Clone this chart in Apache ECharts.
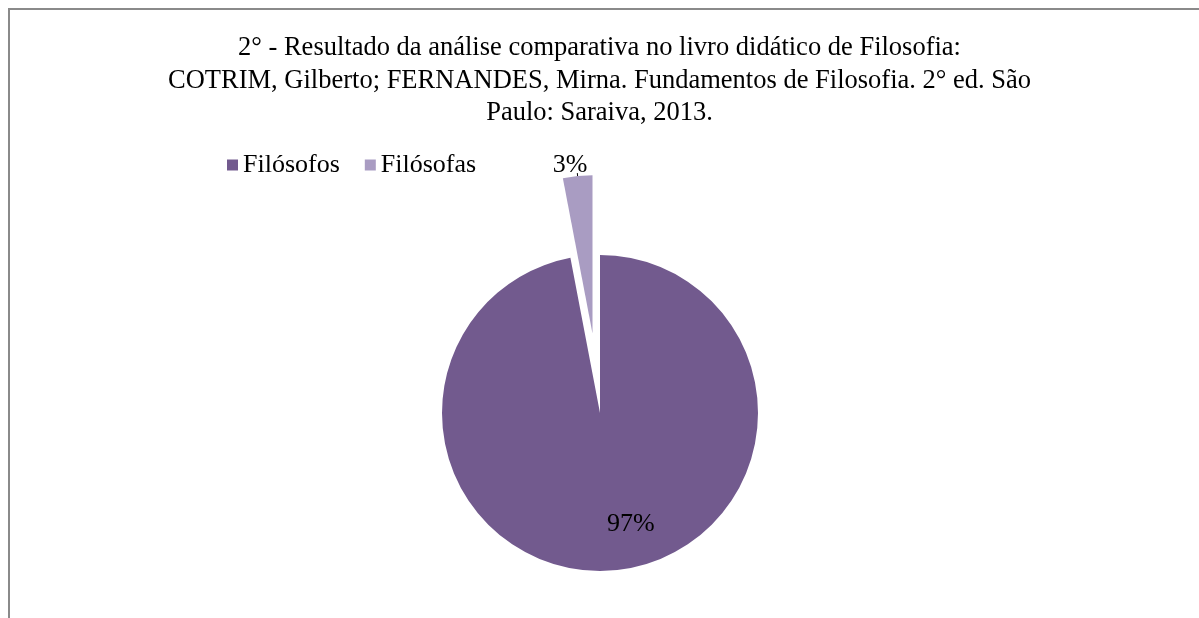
<!DOCTYPE html>
<html>
<head>
<meta charset="utf-8">
<script src="https://cdn.jsdelivr.net/npm/echarts@6/dist/echarts.min.js"></script>
<style>html,body{margin:0;padding:0;background:#fff;}#c{width:1199px;height:618px;}</style>
</head>
<body>
<div id="c"></div>
<script>
const titleLines = [
  "2° - Resultado da análise comparativa no livro didático de Filosofia:",
  "COTRIM, Gilberto; FERNANDES, Mirna. Fundamentos de Filosofia. 2° ed. São",
  "Paulo: Saraiva, 2013."
];
const categories = ["Filósofos", "Filósofas"];
const values = [97, 3];
const colors = ["#725A8E", "#A99CC2"];

const chart = echarts.init(document.getElementById('c'));
const serif = "'Liberation Serif', 'Times New Roman', serif";
chart.setOption({
  backgroundColor: '#fff',
  animation: false,
  graphic: [{
    type: 'rect', silent: true,
    shape: { x: 9, y: 9, width: 1400, height: 800 },
    style: { fill: 'none', stroke: '#8a8a8a', lineWidth: 2 }
  }],
  title: {
    text: titleLines.join('\n'),
    left: 'center', top: 27,
    textStyle: { fontFamily: serif, fontSize: 26.5, fontWeight: 'normal', color: '#000', lineHeight: 32.5 }
  },
  legend: {
    data: categories,
    left: 222, top: 147,
    icon: 'rect', itemWidth: 11, itemHeight: 11, itemGap: 25,
    textStyle: { fontFamily: serif, fontSize: 26, color: '#000' }
  },
  series: [{
    type: 'pie',
    center: [600, 413],
    radius: 158,
    startAngle: 90,
    clockwise: true,
    selectedMode: 'single',
    selectedOffset: 80,
    avoidLabelOverlap: false,
    data: categories.map((name, i) => ({
      name, value: values[i],
      selected: i === 1,
      itemStyle: { color: colors[i] },
      label: i === 0
        ? { position: 'inside', offset: [23, 30] }
        : { position: 'outside' },
      labelLine: i === 0 ? { show: false } : { show: true, length: 3, length2: 0, lineStyle: { color: '#000', width: 1 } }
    })),
    label: {
      formatter: p => Math.round(p.value) + '%',
      fontFamily: serif, fontSize: 26, color: '#000'
    },
    labelLayout: function (p) {
      if (p.dataIndex === 1) { return { dx: 15, dy: -8 }; }
      return {};
    }
  }]
});
</script>
</body>
</html>
